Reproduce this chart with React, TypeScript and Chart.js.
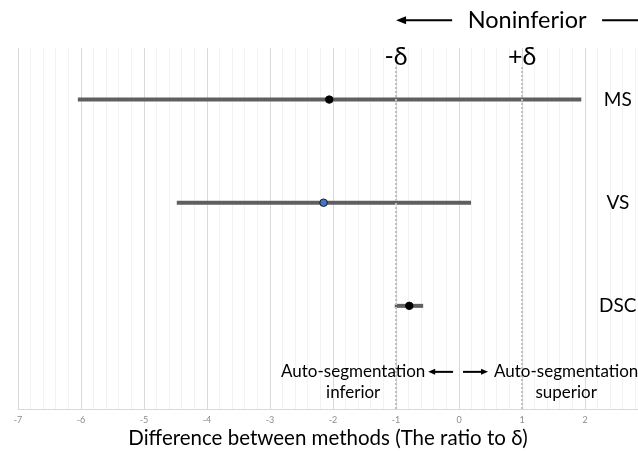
import React, { useEffect, useRef } from "react";
import { Chart, registerables } from "chart.js";

Chart.register(...registerables);

// ---- data ----
const categories = ["MS", "VS", "DSC"];
const rowPositions = [3, 2, 1];
const lowerBounds = [-6.05, -4.48, -1.02];
const upperBounds = [1.94, 0.19, -0.57];
const estimates = [-2.06, -2.15, -0.79];
const pointColors = ["#000000", "#4472C4", "#000000"];
const marginValues = [-1, 1];
const marginLabels = ["-δ", "+δ"];
const xMin = -7;
const xMax = 2.84;
const yMin = 0;
const yMax = 3.5;
const axisTitle = "Difference between methods (The ratio to δ)";
const topLabel = "Noninferior";
const leftNote = ["Auto-segmentation", "inferior"];
const rightNote = ["Auto-segmentation", "superior"];

const FONT = "Lato, 'Open Sans', sans-serif";

function arrow(ctx: CanvasRenderingContext2D, x1: number, x2: number, y: number, head: boolean, lw: number, hl: number, hw: number) {
  const dir = Math.sign(x2 - x1);
  ctx.save();
  ctx.strokeStyle = "#000";
  ctx.fillStyle = "#000";
  ctx.lineWidth = lw;
  ctx.beginPath();
  ctx.moveTo(x1, y);
  ctx.lineTo(head ? x2 - dir * hl * 0.8 : x2, y);
  ctx.stroke();
  if (head) {
    ctx.beginPath();
    ctx.moveTo(x2, y);
    ctx.lineTo(x2 - dir * hl, y - hw / 2);
    ctx.lineTo(x2 - dir * hl, y + hw / 2);
    ctx.closePath();
    ctx.fill();
  }
  ctx.restore();
}

const annotPlugin = {
  id: "annotPlugin",
  afterDatasetsDraw(chart: any) {
    const { ctx, scales } = chart;
    const x = scales.x;
    const y = scales.y;
    ctx.save();
    ctx.fillStyle = "#000";
    ctx.textAlign = "center";
    ctx.textBaseline = "middle";

    ctx.font = `25px ${FONT}`;
    marginValues.forEach((m, i) => {
      ctx.fillText(marginLabels[i], x.getPixelForValue(m), y.getPixelForValue(3.41));
    });

    ctx.font = `23.5px ${FONT}`;
    const ny = y.getPixelForValue(3.77);
    ctx.fillText(topLabel, x.getPixelForValue(1.08), ny);
    arrow(ctx, x.getPixelForValue(-0.11), x.getPixelForValue(-1.0), ny, true, 2, 10, 8);
    arrow(ctx, x.getPixelForValue(2.27), x.getPixelForValue(3.2), ny, false, 2, 10, 8);

    ctx.font = `19px ${FONT}`;
    categories.forEach((c, i) => {
      ctx.fillText(c, x.getPixelForValue(2.52), y.getPixelForValue(rowPositions[i]));
    });

    ctx.font = `17px ${FONT}`;
    const l1 = y.getPixelForValue(0.36);
    const l2 = y.getPixelForValue(0.155);
    ctx.fillText(leftNote[0], x.getPixelForValue(-1.68), l1);
    ctx.fillText(leftNote[1], x.getPixelForValue(-1.68), l2);
    ctx.fillText(rightNote[0], x.getPixelForValue(1.7), l1);
    ctx.fillText(rightNote[1], x.getPixelForValue(1.7), l2);
    arrow(ctx, x.getPixelForValue(-0.095), x.getPixelForValue(-0.49), l1, true, 2, 7, 6);
    arrow(ctx, x.getPixelForValue(0.063), x.getPixelForValue(0.46), l1, true, 2, 7, 6);
    ctx.restore();
  },
};

const isMajor = (v: number) => Math.abs(v - Math.round(v)) < 1e-6;

export default function App() {
  const ref = useRef<HTMLCanvasElement>(null);
  useEffect(() => {
    if (!ref.current) return;
    const barSets = categories.map((c, i) => ({
      type: "line" as const,
      label: c,
      data: [
        { x: lowerBounds[i], y: rowPositions[i] },
        { x: upperBounds[i], y: rowPositions[i] },
      ],
      borderColor: "#5f5f5f",
      borderWidth: 4,
      borderCapStyle: "butt" as const,
      pointRadius: 0,
      showLine: true,
      order: 3,
    }));
    const marginSets = marginValues.map((m, i) => ({
      type: "line" as const,
      label: marginLabels[i],
      data: [
        { x: m, y: yMin },
        { x: m, y: 3.32 },
      ],
      borderColor: "#c0c0c0",
      borderWidth: 2,
      borderDash: [2, 2],
      pointRadius: 0,
      showLine: true,
      order: 2,
    }));
    const pointSet = {
      type: "scatter" as const,
      label: "estimate",
      data: estimates.map((e, i) => ({ x: e, y: rowPositions[i] })),
      pointBackgroundColor: pointColors,
      pointBorderColor: "#000",
      pointBorderWidth: 0.8,
      pointRadius: 3.8,
      order: 1,
    };
    const chart = new Chart(ref.current, {
      type: "scatter",
      data: { datasets: [...barSets, ...marginSets, pointSet] as any },
      options: {
        animation: false,
        responsive: false,
        devicePixelRatio: 1,
        layout: { autoPadding: false, padding: { left: 18, top: 48, right: 0, bottom: 0 } },
        plugins: { legend: { display: false }, tooltip: { enabled: false } },
        scales: {
          x: {
            type: "linear",
            min: xMin,
            max: xMax,
            bounds: "data",
            afterFit: (s: any) => {
              s.height = 42;
              s.paddingLeft = 0;
              s.paddingRight = 0;
            },
            ticks: {
              stepSize: 0.2,
              includeBounds: false,
              autoSkip: false,
              maxRotation: 0,
              minRotation: 0,
              padding: 6,
              color: "#8c8c8c",
              font: { family: FONT, size: 9 },
              callback: (v: any) => (isMajor(Number(v)) ? String(Math.round(Number(v))) : ""),
            },
            grid: {
              drawTicks: false,
              color: (c: any) => (c.tick && isMajor(c.tick.value) ? "#d9d9d9" : "#f2f2f2"),
              lineWidth: 1,
            },
            border: { color: "#d9d9d9", width: 1 },
            title: {
              display: true,
              text: axisTitle,
              color: "#000",
              font: { family: FONT, size: 20.5 },
              padding: 0,
            },
          },
          y: {
            type: "linear",
            min: yMin,
            max: yMax,
            display: false,
          },
        },
      } as any,
      plugins: [annotPlugin],
    });
    return () => chart.destroy();
  }, []);
  return (
    <div style={{ position: "absolute", left: 0, top: 0, width: 638, height: 451, background: "#fff" }}>
      <canvas ref={ref} width={638} height={451} />
    </div>
  );
}
